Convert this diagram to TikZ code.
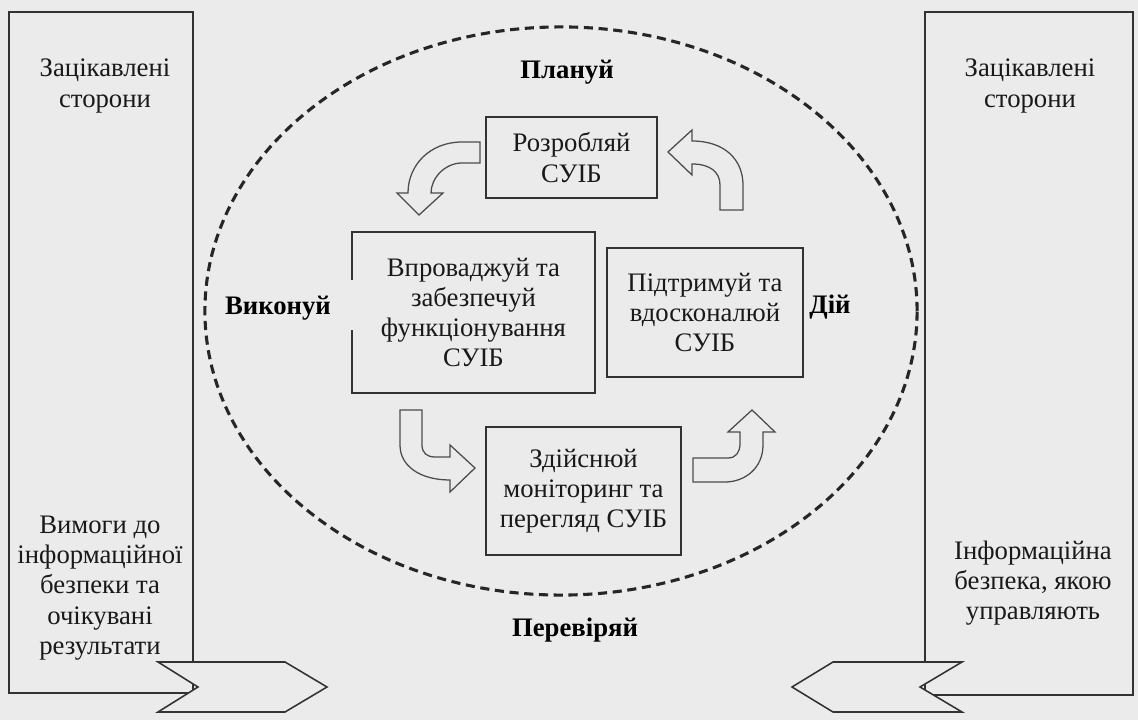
\documentclass[tikz,border=0pt]{standalone}
\usepackage{fontspec}
\setmainfont{Liberation Serif}
\usepackage{tikz}
\definecolor{bgc}{RGB}{235,235,235}
\definecolor{lnc}{RGB}{50,50,50}

\begin{document}
\begin{tikzpicture}[x=0.025cm, y=-0.025cm,
  every node/.style={font=\fontsize{19}{21.5}\selectfont, align=center, text=black!90},
  box/.style={draw=lnc, line width=1.25pt, inner sep=0pt},
  lbl/.style={font=\fontsize{19}{21.5}\selectfont\bfseries, text=black},
  barrow/.style={draw=black!70, line width=0.9pt, fill=bgc, line join=miter},
  chev/.style={draw=lnc, line width=1.1pt, fill=bgc, line join=miter}]
\fill[bgc] (0,0) rectangle (1138,720);
\draw[lnc, line width=1.1pt] (9,12) rectangle (193,693);
\draw[lnc, line width=1.1pt] (925,12) rectangle (1133,695);
\draw[chev] (158,662) -- (285,662) -- (327,687) -- (285,712) -- (158,712) -- (198,687) -- cycle;
\draw[chev] (962,662) -- (833,662) -- (792,687) -- (833,712) -- (962,712) -- (920,687) -- cycle;
\draw[black!85, line width=2.2pt, dash pattern=on 6.5pt off 4pt] (561,311) ellipse [x radius=8.9cm, y radius=7.1cm];

\node (p1) at (105,86) {Зацікавлені\\сторони};
\node (p2) at (1030,86) {Зацікавлені\\сторони};
\node (p3) at (100,588) {Вимоги до\\інформаційної\\безпеки та\\очікувані\\результати};
\node (p4) at (1033,583) {Інформаційна\\безпека, якою\\управляють};

\node[lbl] (l1) at (567,72) {Плануй};
\node[lbl] (l2) at (278,308) {Виконуй};
\node[lbl] (l3) at (830,307) {Дій};
\node[lbl] (l4) at (575,630) {Перевіряй};

\node[box, minimum width=4.275cm, minimum height=2.025cm] (b1) at (571.5,157.5) {Розробляй\\СУІБ};
\node[inner sep=0pt, minimum width=6.075cm, minimum height=4.025cm] (b2) at (473.5,312.5) {Впроваджуй та\\забезпечуй\\функціонування\\СУІБ};
\draw[lnc, line width=1.25pt] ([yshift=-1.2cm]b2.north west) |- (b2.north east) |- (b2.south west) -- ([yshift=1.575cm]b2.south west);
\node[box, minimum width=4.9cm, minimum height=3.225cm] (b3) at (705,312.5) {Підтримуй та\\вдосконалюй\\СУІБ};
\node[box, minimum width=4.875cm, minimum height=3.2cm] (b4) at (583.5,491) {Здійснюй\\моніторинг та\\перегляд СУІБ};

% bent arrows
\draw[barrow] (480,142) -- (462,142) .. controls (430,142) and (408,165) .. (408,193) -- (397,193) -- (419,215) -- (443,193) -- (431,193) .. controls (431,178) and (445,163) .. (462,163) -- (480,163) -- cycle;
\draw[barrow] (720,210) -- (720,185) .. controls (720,172) and (710,164) .. (692,164) -- (692,175) -- (668,152) -- (692,130) -- (692,141) .. controls (725,141) and (743,160) .. (743,185) -- (743,210) -- cycle;
\draw[barrow] (400,410) -- (400,445) .. controls (400,466) and (420,480) .. (450,480) -- (450,492) -- (475,468) -- (450,445) -- (450,457) -- (435,457) .. controls (427,457) and (422,453) .. (422,445) -- (422,410) -- cycle;
\draw[barrow] (693,458) -- (728,458) .. controls (736,458) and (740,452) .. (740,444) -- (740,432) -- (728,432) -- (752,410) -- (775,432) -- (763,432) -- (763,445) .. controls (763,468) and (745,482) .. (725,482) -- (693,482) -- cycle;
\end{tikzpicture}
\end{document}
